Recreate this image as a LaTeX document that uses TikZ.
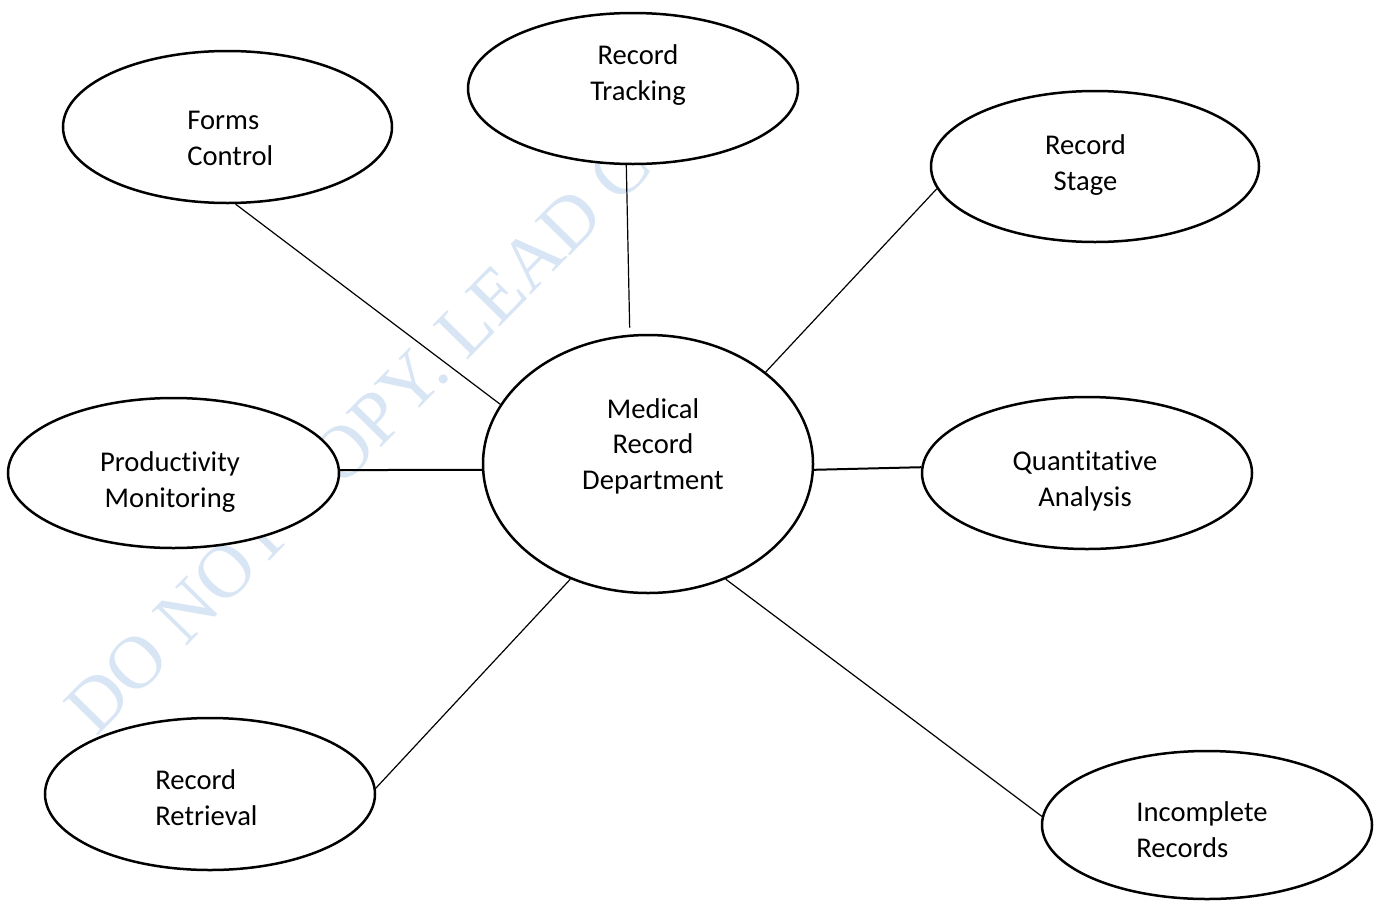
\documentclass[tikz,border=0pt]{standalone}
\usepackage{fontspec}
\setmainfont{Carlito}[Ligatures={NoCommon}]
\newfontfamily\wmfont{Liberation Serif}
\usetikzlibrary{shapes.geometric}
\definecolor{wmblue}{RGB}{216,229,244}
\tikzset{
  ell/.style 2 args={shape=ellipse, draw=black, line width=1.25pt, fill=white,
    inner sep=0pt, minimum width=#1*0.5pt, minimum height=#2*0.5pt},
  lbl/.style={inner sep=0pt, font=\fontsize{14.3}{17.75}\selectfont},
  lblc/.style={lbl, align=center, anchor=base},
  lbll/.style={lbl, align=left, anchor=base west},
  conn/.style={draw=black, line width=0.6pt},
  connh/.style={draw=black, line width=1pt},
  wm/.style={inner sep=0pt, text=wmblue, font=\wmfont\fontsize{37.5}{40}\selectfont, rotate=45.5, anchor=base west}
}
\begin{document}
\begin{tikzpicture}[x=0.5pt,y=-0.5pt]
\fill[white] (0,0) rectangle (1381,900);
\useasboundingbox (0,0) rectangle (1381,900);
\begin{scope}
\clip (0,0) rectangle (1381,900);
\node[wm] (wmark) at (96,738) {DO NOT COPY. LEAD C};

\node[ell={329}{152}] (forms) at (227.5,127) {};
\node[ell={330}{151}] (track) at (633,88.5) {};
\node[ell={328}{151}] (stage) at (1095,166.5) {};
\node[ell={330}{258}] (med) at (648,464) {};
\node[ell={331}{150}] (prod) at (173.5,473) {};
\node[ell={330}{152}] (quant) at (1087,473) {};
\node[ell={330}{152}] (retr) at (210,794) {};
\node[ell={330}{148}] (incomp) at (1207,825) {};

\node[lbll] (tforms) at (187,165) {Forms\\Control};
\node[lblc] (ttrack) at (638,100) {Record\\Tracking};
\node[lblc] (tstage) at (1085.5,190) {Record\\Stage};
\node[lblc] (tmed) at (653,489) {Medical\\Record\\Department};
\node[lblc] (tprod) at (170,507) {Productivity\\Monitoring};
\node[lblc] (tquant) at (1085,506) {Quantitative\\Analysis};
\node[lbll] (tretr) at (155,825) {Record\\Retrieval};
\node[lbll] (tincomp) at (1136,857) {Incomplete\\Records};

\draw[conn] (med.158.4) -- (forms.276.4);
\draw[conn, shorten <=3.5pt] (med.98.4) -- (track.265.6);
\draw[conn] (med.38.2) -- (stage.188.5);
\draw[connh] (med.182) -- (prod.1.4);
\draw[connh] (med.358) -- (quant.178.6);
\draw[conn] (med.236) -- (retr.2.4);
\draw[conn] (med.304) -- (incomp.177.9);
\end{scope}
\end{tikzpicture}
\end{document}
